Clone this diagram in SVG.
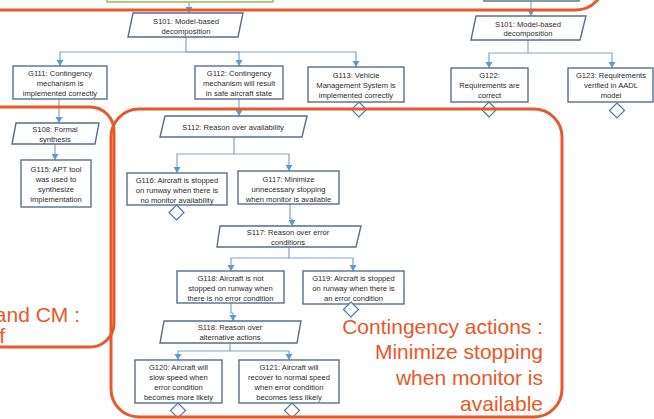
<svg xmlns="http://www.w3.org/2000/svg" width="654" height="419" viewBox="0 0 654 419">
<defs>
<style>
.n{fill:#fff;stroke:#56708c;stroke-width:1.4}
.t{font-family:"Liberation Sans",Arial,sans-serif;font-size:7.6px;fill:#2b2b2b;text-anchor:middle}
.c{fill:none;stroke:#80a4cf;stroke-width:1.2}
.d{fill:#fff;stroke:#4a7ab5;stroke-width:1.2}
.o{fill:none;stroke:#e8582a;stroke-width:3}
.ot{font-family:"Liberation Sans",Arial,sans-serif;font-size:21px;fill:#e8582a;text-anchor:end}
</style>
<marker id="a" markerUnits="userSpaceOnUse" markerWidth="8" markerHeight="8" refX="6" refY="3.5" orient="auto">
<path d="M0,0 L6,3.5 L0,7 Z" fill="#5b9bd5"/>
</marker>
</defs>

<g id="connectors">
<path class="c" d="M189,2 V13" marker-end="url(#a)"/>
<path class="c" d="M531,1 V16" marker-end="url(#a)"/>
<path class="c" d="M186,37 V52 H60 V66" marker-end="url(#a)"/>
<path class="c" d="M186,52 H239 V66" marker-end="url(#a)"/>
<path class="c" d="M186,52 H356 V67" marker-end="url(#a)"/>
<path class="c" d="M528,40 V53 H489 V68" marker-end="url(#a)"/>
<path class="c" d="M528,53 H612 V68" marker-end="url(#a)"/>
<path class="c" d="M59,99 V123" marker-end="url(#a)"/>
<path class="c" d="M55,144 V160" marker-end="url(#a)"/>
<path class="c" d="M239,99 V116" marker-end="url(#a)"/>
<path class="c" d="M234,137 V154 H177 V173" marker-end="url(#a)"/>
<path class="c" d="M234,154 H289 V171" marker-end="url(#a)"/>
<path class="c" d="M290,204 V219 H292 V226" marker-end="url(#a)"/>
<path class="c" d="M289,247 V258 H231 V271" marker-end="url(#a)"/>
<path class="c" d="M289,258 H353 V271" marker-end="url(#a)"/>
<path class="c" d="M231,303 V313 H233 V321" marker-end="url(#a)"/>
<path class="c" d="M230,343 V351 H178 V360" marker-end="url(#a)"/>
<path class="c" d="M230,351 H289 V360" marker-end="url(#a)"/>
</g>

<g id="top-left-box"><rect x="107" y="-20" width="166" height="22" fill="#fff" stroke="#9bbb59" stroke-width="1.5"/></g>
<g id="top-right-box"><rect class="n" x="484" y="-20" width="95" height="21"/></g>

<g id="S101a"><polygon class="n" points="133,13 243,13 238,37 128,37"/>
<text class="t" x="186" y="23.7">S101: Model-based</text><text class="t" x="186" y="33.7">decomposition</text></g>
<g id="S101b"><polygon class="n" points="476,16 586,16 580,40 471,40"/>
<text class="t" x="528" y="26.7">S101: Model-based</text><text class="t" x="528" y="35.7">decomposition</text></g>

<g id="G111"><rect class="n" x="13" y="66" width="94" height="33"/>
<text class="t" x="60" y="75.7">G111: Contingency</text><text class="t" x="60" y="85.7">mechanism is</text><text class="t" x="60" y="95.7">implemented correctly</text></g>
<g id="G112"><rect class="n" x="195" y="66" width="88" height="33"/>
<text class="t" x="239" y="75.7">G112: Contingency</text><text class="t" x="239" y="85.7">mechanism will result</text><text class="t" x="239" y="95.7">in safe aircraft state</text></g>
<g id="G113"><rect class="n" x="308" y="67" width="96" height="35"/>
<text class="t" x="356" y="77.7">G113: Vehicle</text><text class="t" x="356" y="87.7">Management System is</text><text class="t" x="356" y="97.7">implemented correctly</text>
<polygon class="d" points="359,102 366.5,109.5 359,117 351.5,109.5"/></g>
<g id="G122"><rect class="n" x="451" y="68" width="77" height="34"/>
<text class="t" x="489.5" y="77.7">G122:</text><text class="t" x="489.5" y="87.7">Requirements are</text><text class="t" x="489.5" y="97.7">correct</text>
<polygon class="d" points="489,102 496.5,109.5 489,117 481.5,109.5"/></g>
<g id="G123"><rect class="n" x="568" y="68" width="85" height="34"/>
<text class="t" x="611" y="77.7">G123: Requirements</text><text class="t" x="611" y="87.7">verified in AADL</text><text class="t" x="611" y="97.7">model</text>
<polygon class="d" points="617,103 624.5,110.5 617,118 609.5,110.5"/></g>

<g id="S108"><polygon class="n" points="16,123 99,123 95,144 12,144"/>
<text class="t" x="55" y="131.7">S108: Formal</text><text class="t" x="55" y="141.7">synthesis</text></g>
<g id="G115"><rect class="n" x="21" y="160" width="70" height="47"/>
<text class="t" x="56" y="171.7">G115: APT tool</text><text class="t" x="56" y="181.7">was used to</text><text class="t" x="56" y="191.7">synthesize</text><text class="t" x="56" y="201.7">implementation</text></g>

<g id="S112"><polygon class="n" points="165,116 307,116 302,137 160,137"/>
<text class="t" x="233" y="129.7">S112: Reason over availability</text></g>
<g id="G116"><rect class="n" x="127" y="173" width="100" height="32"/>
<text class="t" x="177" y="182.7">G116: Aircraft is stopped</text><text class="t" x="177" y="192.7">on runway when there is</text><text class="t" x="177" y="202.7">no monitor availability</text>
<polygon class="d" points="176.5,205 184,212.5 176.5,220 169,212.5"/></g>
<g id="G117"><rect class="n" x="238" y="171" width="101" height="33"/>
<text class="t" x="288.5" y="181.7">G117: Minimize</text><text class="t" x="288.5" y="191.7">unnecessary stopping</text><text class="t" x="288.5" y="202.2">when monitor is available</text></g>

<g id="S117"><polygon class="n" points="220,226 361,226 356,247 217,247"/>
<text class="t" x="288" y="234.7">S117: Reason over error</text><text class="t" x="288" y="244.7">conditions</text></g>
<g id="G118"><rect class="n" x="177" y="271" width="107" height="32"/>
<text class="t" x="230.5" y="280.7">G118: Aircraft is not</text><text class="t" x="230.5" y="290.7">stopped on runway when</text><text class="t" x="230.5" y="300.7">there is no error condition</text></g>
<g id="G119"><rect class="n" x="303" y="271" width="101" height="33"/>
<text class="t" x="353.5" y="280.7">G119: Aircraft is stopped</text><text class="t" x="353.5" y="290.7">on runway when there is</text><text class="t" x="353.5" y="300.7">an error condition</text>
<polygon class="d" points="351,302 358.5,309.5 351,317 343.5,309.5"/></g>

<g id="S118"><polygon class="n" points="164,321 301,321 297,343 160,343"/>
<text class="t" x="230" y="329.7">S118: Reason over</text><text class="t" x="230" y="339.7">alternative actions</text></g>
<g id="G120"><rect class="n" x="135" y="360" width="87" height="43"/>
<text class="t" x="178.5" y="369.7">G120: Aircraft will</text><text class="t" x="178.5" y="379.7">slow speed when</text><text class="t" x="178.5" y="389.7">error condition</text><text class="t" x="178.5" y="399.7">becomes more likely</text>
<polygon class="d" points="178,403 185.5,410.5 178,418 170.5,410.5"/></g>
<g id="G121"><rect class="n" x="239" y="360" width="100" height="43"/>
<text class="t" x="289" y="369.7">G121: Aircraft will</text><text class="t" x="289" y="379.7">recover to normal speed</text><text class="t" x="289" y="389.7">when error condition</text><text class="t" x="289" y="399.7">becomes less likely</text>
<polygon class="d" points="292,403 299.5,410.5 292,418 284.5,410.5"/></g>

<g id="highlights">
<rect class="o" x="-60" y="-300" width="664" height="310" rx="28"/>
<rect class="o" x="-60" y="107" width="174" height="240" rx="24"/>
<rect class="o" x="111" y="109" width="451" height="308" rx="28"/>
<text class="ot" x="80" y="322">and CM :</text>
<text class="ot" x="5" y="343">f</text>
<text class="ot" x="543" y="334">Contingency actions :</text>
<text class="ot" x="543" y="359">Minimize stopping</text>
<text class="ot" x="543" y="385">when monitor is</text>
<text class="ot" x="543" y="411">available</text>
</g>
</svg>
